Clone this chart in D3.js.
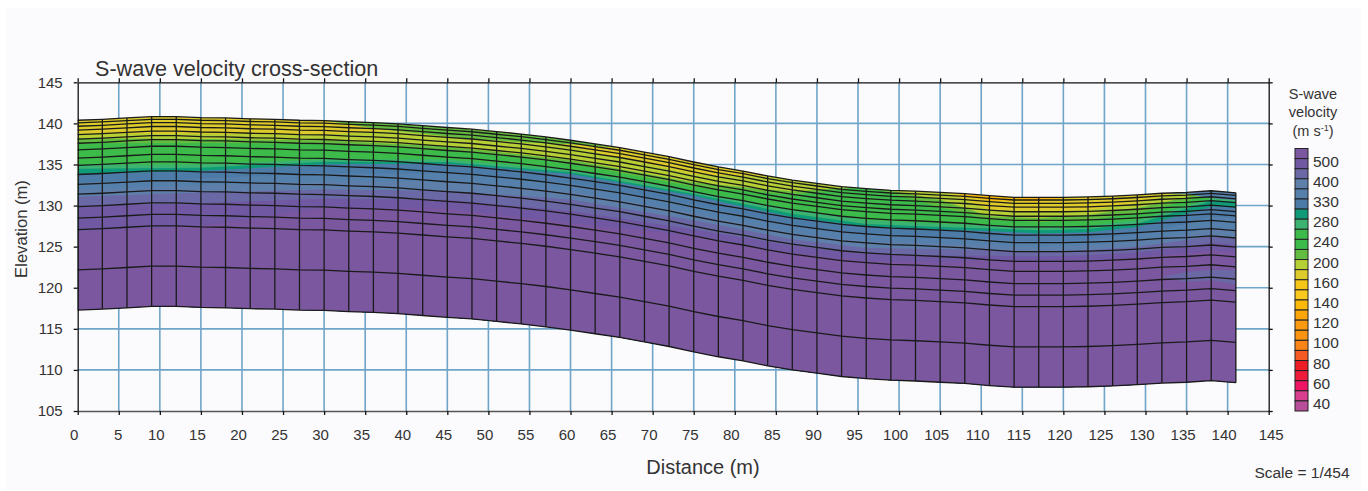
<!DOCTYPE html>
<html lang="en">
<head>
<meta charset="UTF-8">
<script src="https://d3js.org/d3.v7.min.js"></script>
<title>S-wave velocity cross-section</title>
<style>
    body { margin: 0; background: #fff; }
    text { font-family: "Liberation Sans", Arial, sans-serif; fill: #333; }
</style>
</head>
<body>
<svg id="chart" width="1368" height="491"></svg>
<script>
// surface elevation at every electrode, 3 m apart from 0 m to 141 m
const surface = [140.38,140.5,140.66,140.82,140.82,140.7,140.66,140.55,140.5,140.38,140.34,140.2,
    140.1,139.95,139.72,139.5,139.3,139.0,138.7,138.35,137.95,137.5,137.05,136.5,135.95,135.3,134.7,134.2,
    133.6,133.1,132.7,132.3,132.05,131.85,131.75,131.6,131.45,131.2,131.0,131.0,131.0,131.05,131.15,
    131.3,131.5,131.6,131.8,131.55];
const spacing = 3;

// depths below the surface of the model layer boundaries
const layerDepths = [0.32,0.73,1.2,1.75,2.3,2.8,3.6,4.6,5.5,6.6,7.8,9.0,10.5,11.9,13.3,18.2,23.1];

// where the colour bands were read, metres along the line
const stations = [0,15,30,45,60,75,87,96,105,111,117,123,129,135,138,141];

// colour bands, top one first, with depth of the top of the band at each station
const bandColors = ["#fdb90a","#dccb2b","#b5cf35","#63bc3f","#3dbb4a","#3cb371","#0f9b78",
    "#4c7ba8","#5580ab","#5f7fab","#6a68a5","#7058a2","#7b57a0"];
const bandDepths = [
    [0,0,0,0,0,0,0,0,0,0,0,0,0,0,0,0],
    [-0.3,-0.3,-0.3,-0.3,-0.3,-0.3,-0.3,-0.3,-0.3,0.6,0.5,-0.3,-0.3,-0.3,-0.3,-0.3],
    [1.6,1.95,1.7,0,0.8,1.5,-0.3,-0.3,-0.3,1.7,1.8,1.6,1.0,-0.3,-0.3,-0.3],
    [2.2,2.6,2.4,2.3,2.4,2.5,1.4,-0.3,0.9,2.5,2.5,2.2,1.6,0.6,-0.3,-0.3],
    [2.8,3.1,2.8,2.7,2.8,3.0,1.8,-0.3,1.8,2.9,3.0,2.8,2.2,1.0,0.4,0.2],
    [5.4,5.7,4.7,3.9,3.6,3.6,3.6,3.8,3.8,3.6,3.6,3.5,3.1,1.6,1.0,0.8],
    [5.9,6.1,5.0,4.2,3.9,3.9,4.1,4.3,4.2,4.0,4.0,3.9,3.5,2.0,1.2,1.1],
    [6.5,6.5,5.3,4.4,4.1,4.1,4.5,4.6,4.5,4.3,4.4,4.3,3.9,2.6,1.9,1.8],
    [7.6,7.4,6.4,5.6,5.2,5.2,5.5,5.6,5.5,5.3,5.4,5.2,4.8,3.8,3.2,3.0],
    [8.5,8.2,7.4,6.6,6.2,6.2,6.4,6.4,6.2,6.0,6.0,5.9,5.6,5.0,4.5,4.4],
    [9.3,9.1,8.4,7.7,7.2,7.1,7.2,7.2,6.9,6.6,6.6,6.5,6.3,5.8,5.5,5.5],
    [10.5,10.4,9.5,8.8,8.6,8.2,8.0,7.9,7.7,7.3,7.2,7.1,7.0,6.6,6.3,6.3],
    [13.5,13.2,10.6,9.9,10.1,9.0,8.9,8.8,8.5,7.8,7.8,7.8,7.6,7.4,7.3,7.2]
];

// green layer sitting on the yellow around 30-60 m
const capStations = [30,36,45,54,60,66];
const capDepths = [0,0.7,1.1,1.0,0.5,0];
const capColor = "#63bc3f";

// blue at the surface at the east end
const blueCapStations = [132,135,138,141];
const blueCapDepths = [0,0.2,0.9,0.9];
const blueCapColor = "#5580ab";

// slower patch inside the purple at the east end
const lensStations = [132,135,138,141];
const lensTop = [10.2,9.7,9.6,9.4];
const lensBottom = [10.2,10.9,10.9,11.2];
const lensColor = "#6a68a5";

const xTicks = d3.range(0, 150, 5);
const yTicks = d3.range(105, 150, 5);

// legend, top swatch first, a label on every second one
const legendColors = ["#7b57a0","#7058a2","#6a68a5","#5f7fab","#5580ab","#4c7ba8","#0f9b78","#3cb371",
    "#3dbb4a","#3dbb4a","#63bc3f","#b5cf35","#dccb2b","#f5c518","#fbc91e","#fdb90a","#fca60a",
    "#fb9a10","#fb9410","#f98518","#f55a25","#ee1c25","#ee1c3a","#ee1566","#d8408f","#b84d9a"];
const legendLabels = ["500","400","330","280","240","200","160","140","120","100","80","60","40"];

const svg = d3.select("#chart");

svg.append("rect").attr("x",6).attr("y",8).attr("width",1355).attr("height",482).attr("fill","#fbfafc");

const x = d3.scaleLinear().domain([0,145]).range([77.7,1268.7]);
const y = d3.scaleLinear().domain([105,145]).range([411,82.3]);

const nodes = surface.map((s,i) => ({m: i*spacing, s: s}));
const surfaceAt = m => surface[Math.round(m/spacing)];
const bottom = layerDepths[layerDepths.length-1];

// grid
svg.append("g").selectAll("line").data(xTicks.slice(1,-1)).join("line")
    .attr("x1",d => x(d)).attr("x2",d => x(d)).attr("y1",y(145)).attr("y2",y(105))
    .attr("stroke","#6fa5c8").attr("stroke-width",1.6);
svg.append("g").selectAll("line").data(yTicks.slice(1,-1)).join("line")
    .attr("x1",x(0)).attr("x2",x(145)).attr("y1",d => y(d)).attr("y2",d => y(d))
    .attr("stroke","#6fa5c8").attr("stroke-width",1.6);

// outline of the section
const sectionArea = d3.area()
    .x(d => x(d.m)).y0(d => y(d.s-bottom)).y1(d => y(d.s));
svg.append("clipPath").attr("id","section").append("path").attr("d",sectionArea(nodes));

const bands = svg.append("g").attr("clip-path","url(#section)");
const bandArea = d3.area().x(d => x(d[0])).y0(y(105)).y1(d => y(surfaceAt(d[0])-d[1]));
bandColors.forEach((c,i) => {
    bands.append("path").attr("fill",c).attr("d",bandArea(stations.map((m,j) => [m,bandDepths[i][j]])));
});

const patchArea = d3.area().x(d => x(d[0])).y0(d => y(surfaceAt(d[0])-d[1])).y1(d => y(surfaceAt(d[0])-d[2]));
bands.append("path").attr("fill",capColor).attr("d",patchArea(capStations.map((m,j) => [m,0,capDepths[j]])));
bands.append("path").attr("fill",blueCapColor).attr("d",patchArea(blueCapStations.map((m,j) => [m,0,blueCapDepths[j]])));
bands.append("path").attr("fill",lensColor).attr("d",patchArea(lensStations.map((m,j) => [m,lensTop[j],lensBottom[j]])));

// model blocks
const blockLine = d3.line().x(d => x(d.m));
[0].concat(layerDepths).forEach(dep => {
    svg.append("path").attr("fill","none").attr("stroke","#1a1a1a").attr("stroke-width",1.3)
        .attr("d",blockLine.y(d => y(d.s-dep))(nodes));
});
svg.append("g").selectAll("line").data(nodes.slice(1)).join("line")
    .attr("x1",d => x(d.m)).attr("x2",d => x(d.m))
    .attr("y1",d => y(d.s)).attr("y2",d => y(d.s-bottom))
    .attr("stroke","#1a1a1a").attr("stroke-width",1.3);

// axes
const xAxis = svg.append("g").attr("transform",`translate(0,${y(105)})`)
    .call(d3.axisBottom(x).tickValues(xTicks).tickSize(4).tickPadding(14).tickSizeOuter(0));
const xAxisTop = svg.append("g").attr("transform",`translate(0,${y(145)})`)
    .call(d3.axisTop(x).tickValues(xTicks).tickSize(4).tickFormat("").tickSizeOuter(0));
const yAxis = svg.append("g").attr("transform",`translate(${x(0)},0)`)
    .call(d3.axisLeft(y).tickValues(yTicks).tickSize(4).tickPadding(11).tickSizeOuter(0));
const yAxisRight = svg.append("g").attr("transform",`translate(${x(145)},0)`)
    .call(d3.axisRight(y).tickValues(yTicks).tickSize(4).tickFormat("").tickSizeOuter(0));
[xAxis,xAxisTop,yAxis,yAxisRight].forEach(a => {
    a.selectAll("path,line").attr("stroke","#111").attr("stroke-width",1.3);
    a.selectAll("text").attr("font-size",15).attr("font-family","Liberation Sans").style("fill","#333");
});
xAxis.select("path").attr("stroke","#555").attr("stroke-width",1.6);
// tick labels sit slightly left of their ticks in the original
xAxis.selectAll("text").attr("dx",d => d == 5 ? -1 : d == 145 ? 2 : -4);

// titles
svg.append("text").attr("x",95).attr("y",76).attr("font-size",21.6).text("S-wave velocity cross-section");
svg.append("text").attr("x",703).attr("y",474).attr("text-anchor","middle").attr("font-size",20).text("Distance (m)");
svg.append("text").attr("transform","translate(27,229) rotate(-90)").attr("text-anchor","middle").attr("font-size",16.6).text("Elevation (m)");
svg.append("text").attr("x",1302).attr("y",478).attr("text-anchor","middle").attr("font-size",15.5).text("Scale = 1/454");

// legend
const legendY = d3.scaleBand().domain(d3.range(legendColors.length)).range([148.5,411]);
const lg = svg.append("g");
lg.selectAll("rect").data(legendColors).join("rect")
    .attr("x",1295).attr("width",13).attr("y",(d,i) => legendY(i)).attr("height",legendY.bandwidth())
    .attr("fill",d => d).attr("stroke","#222").attr("stroke-width",1);
lg.selectAll("text").data(legendLabels).join("text")
    .attr("x",1313).attr("y",(d,i) => legendY(i*2+1)+8).attr("font-size",15.5).text(d => d);

const legendTitle = svg.append("g").attr("text-anchor","middle").attr("font-size",14.5);
legendTitle.append("text").attr("x",1313).attr("y",99).text("S-wave");
legendTitle.append("text").attr("x",1313).attr("y",117).text("velocity");
const unit = legendTitle.append("text").attr("x",1313).attr("y",136);
unit.append("tspan").text("(m s");
unit.append("tspan").attr("dy",-5).attr("font-size",9).text("-1");
unit.append("tspan").attr("dy",5).text(")");
</script>
</body>
</html>
